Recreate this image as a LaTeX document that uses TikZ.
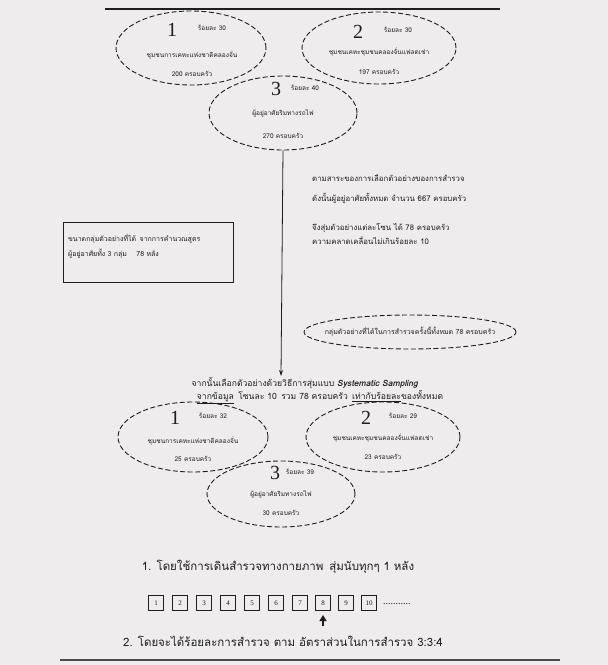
\documentclass[tikz,border=0pt]{standalone}
\usepackage{fontspec}
\setmainfont{Liberation Serif}
\newfontfamily\thai[Script=Thai]{Loma}
\usetikzlibrary{shapes.geometric,arrows.meta}
\definecolor{paper}{RGB}{238,236,236}
\definecolor{ink}{RGB}{30,30,30}
\tikzset{
  oval/.style={ellipse, draw=ink, line width=0.9pt, dash pattern=on 5pt off 2.5pt, inner sep=0pt},
  big/.style={font=\fontsize{20}{20}\selectfont, text=ink, inner sep=0pt},
  tiny/.style={font=\thai\fontsize{6.5}{7}\selectfont, text=ink, inner sep=0pt},
  small/.style={font=\thai\fontsize{7.8}{9}\selectfont, text=ink, inner sep=0pt, align=left},
  boxtext/.style={font=\thai\fontsize{7}{8}\selectfont, text=ink, inner sep=0pt, align=left},
  mid/.style={font=\thai\fontsize{8.6}{10}\selectfont, text=ink, inner sep=0pt},
  line/.style={font=\thai\fontsize{11.5}{13}\selectfont, text=ink, inner sep=0pt},
  numbox/.style={draw=ink, line width=0.7pt, minimum size=15pt, inner sep=0pt, font=\fontsize{7}{7}\selectfont, text=ink},
}
\begin{document}
\begin{tikzpicture}[x=1pt,y=-1pt]
\useasboundingbox (0,0) rectangle (608,665);
\fill[paper] (0,0) rectangle (608,665);
\draw[ink, line width=1.2pt] (105,9) -- (500,9);
\draw[ink!80, line width=1.2pt] (60,660) -- (560,660);

% ---- top ellipses ----
\node[oval, minimum width=150pt, minimum height=74pt] (e1) at (191,48) {};
\node[oval, minimum width=154pt, minimum height=72pt] (e2) at (379,48) {};
\node[oval, minimum width=148pt, minimum height=74pt] (e3) at (283,113) {};

\node[big] (e1n) at (172,30) {1};
\node[tiny] (e1p) at (212,28) {ร้อยละ 30};
\node[tiny] (e1t) at (192,55) {ชุมชนการเคหะแห่งชาติคลองจั่น};
\node[tiny] (e1c) at (192,74) {200 ครอบครัว};

\node[big] (e2n) at (358,32) {2};
\node[tiny] (e2p) at (398,30) {ร้อยละ 30};
\node[tiny] (e2t) at (379,52) {ชุมชนเคหะชุมชนคลองจั่นแฟลตเช่า};
\node[tiny] (e2c) at (379,72) {197 ครอบครัว};

\node[big] (e3n) at (276,89) {3};
\node[tiny] (e3p) at (305,88) {ร้อยละ 40};
\node[tiny] (e3t) at (283,113) {ผู้อยู่อาศัยริมทางรถไฟ};
\node[tiny] (e3c) at (283,136) {270 ครอบครัว};

% ---- right notes ----
\node[small, anchor=west] (r1) at (312,178) {ตามสาระของการเลือกตัวอย่างของการสำรวจ};
\node[small, anchor=west] (r2) at (312,198) {ดังนั้นผู้อยู่อาศัยทั้งหมด จำนวน 667 ครอบครัว};
\node[small, anchor=west] (r3) at (312,228) {จึงสุ่มตัวอย่างแต่ละโซน ได้ 78 ครอบครัว};
\node[small, anchor=west] (r4) at (312,241) {ความคลาดเคลื่อนไม่เกินร้อยละ 10};

% ---- left box ----
\node[draw=ink, line width=0.9pt, minimum width=170pt, minimum height=60pt, inner sep=0pt] (lb) at (148,252) {};
\node[boxtext, anchor=west] (lb1) at (68,239) {ขนาดกลุ่มตัวอย่างที่ได้\enspace จากการคำนวณสูตร};
\node[boxtext, anchor=west] (lb2) at (68,254) {ผู้อยู่อาศัยทั้ง 3 กลุ่ม \quad 78 หลัง};

% ---- right oval ----
\node[oval, minimum width=212pt, minimum height=34pt] (ro) at (410,332) {};
\node[boxtext] (rot) at (410,332) {กลุ่มตัวอย่างที่ได้ในการสำรวจครั้งนี้ทั้งหมด 78 ครอบครัว};

% ---- middle lines ----
\coordinate (ah) at (281,376);
\draw[ink, line width=0.8pt, -{Stealth[length=6pt,width=4pt]}] (e3.south) -- (ah);
\node[mid] (m1) at (305,383) {จากนั้นเลือกตัวอย่างด้วยวิธีการสุ่มแบบ \textbf{\textit{Systematic Sampling}}};
\node[mid] (m2) at (320,397) {\underline{จากข้อมูล}\enspace โซนละ 10\enspace รวม 78 ครอบครัว\enspace \underline{เท่ากับร้อยละ}ของทั้งหมด};

% ---- bottom ellipses ----
\node[oval, minimum width=150pt, minimum height=70pt] (f1) at (193,437) {};
\node[oval, minimum width=154pt, minimum height=70pt] (f2) at (383,437) {};
\node[oval, minimum width=148pt, minimum height=66pt] (f3) at (281,494) {};

\node[big] (f1n) at (175,418) {1};
\node[tiny] (f1p) at (213,416) {ร้อยละ 32};
\node[tiny] (f1t) at (193,441) {ชุมชนการเคหะแห่งชาติคลองจั่น};
\node[tiny] (f1c) at (193,459) {25 ครอบครัว};

\node[big] (f2n) at (366,418) {2};
\node[tiny] (f2p) at (403,416) {ร้อยละ 29};
\node[tiny] (f2t) at (383,438) {ชุมชนเคหะชุมชนคลองจั่นแฟลตเช่า};
\node[tiny] (f2c) at (383,457) {23 ครอบครัว};

\node[big] (f3n) at (275,473) {3};
\node[tiny] (f3p) at (300,472) {ร้อยละ 39};
\node[tiny] (f3t) at (281,494) {ผู้อยู่อาศัยริมทางรถไฟ};
\node[tiny] (f3c) at (281,513) {30 ครอบครัว};

% ---- bottom ----
\node[line] (b1t) at (278,567) {1. โดยใช้การเดินสำรวจทางกายภาพ\enspace สุ่มนับทุกๆ 1 หลัง};
\node[numbox] (n1) at (156,603) {1};
\node[numbox] (n2) at (180,603) {2};
\node[numbox] (n3) at (204,603) {3};
\node[numbox] (n4) at (228,603) {4};
\node[numbox] (n5) at (252,603) {5};
\node[numbox] (n6) at (276,603) {6};
\node[numbox] (n7) at (300,603) {7};
\node[numbox] (n8) at (323,603) {8};
\node[numbox] (n9) at (346,603) {9};
\node[numbox] (n10) at (369,603) {10};
\node[font=\fontsize{10}{10}\selectfont, text=ink, anchor=west, inner sep=0pt] (dots) at (383,604) {...........};
\coordinate (up0) at (323,626);
\coordinate (up1) at (323,615);
\draw[ink, line width=1.2pt, -{Triangle[length=6pt,width=7pt]}] (up0) -- (up1);
\node[line] (b2t) at (283,641) {2. โดยจะได้ร้อยละการสำรวจ ตาม อัตราส่วนในการสำรวจ 3:3:4};
\end{tikzpicture}
\end{document}
